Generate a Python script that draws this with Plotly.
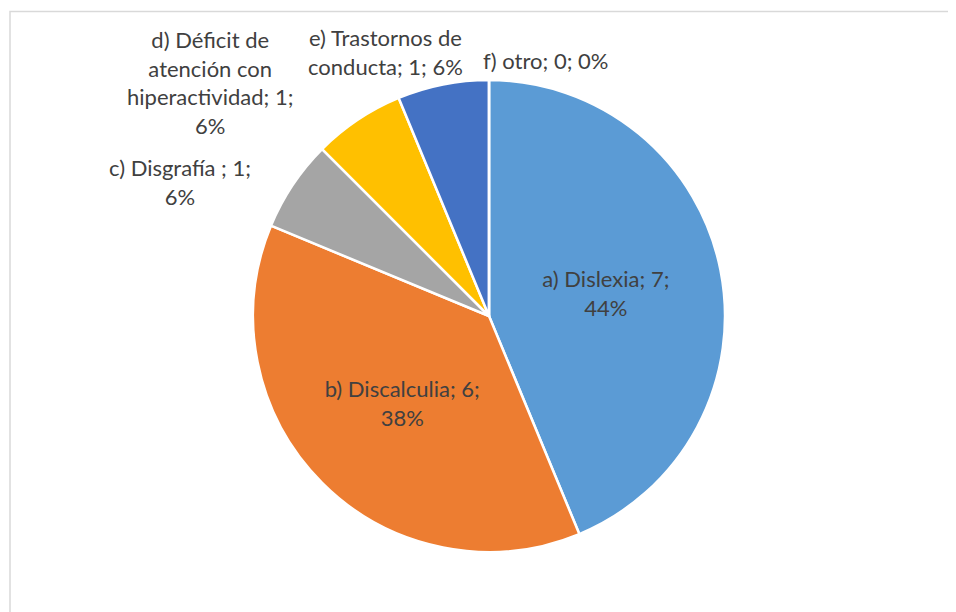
import plotly.graph_objects as go

# datos del gráfico
etiquetas = ["a) Dislexia", "b) Discalculia", "c) Disgrafía ", "d) Déficit de atención con hiperactividad",
             "e) Trastornos de conducta", "f) otro"]
textos = ["a) Dislexia; 7;<br>44%", "b) Discalculia; 6;<br>38%", "c) Disgrafía ; 1;<br>6%",
          "d) Déficit de<br>atención con<br>hiperactividad; 1;<br>6%", "e) Trastornos de<br>conducta; 1; 6%",
          "f) otro; 0; 0%"]
valores = [7, 6, 1, 1, 1, 0]
colores = ["#5B9BD5", "#ED7D31", "#A5A5A5", "#FFC000", "#4472C4", "#70AD47"]
posiciones = ["inside", "inside", "none", "none", "none", "none"]

W, H = 956, 612
OFF = 8  # margen por defecto del <body> en la página


def fx(p):
    return (p - OFF) / W


def fy(p):
    return 1 - (p - OFF) / H


cx, cy, r = 489, 316, 236

fig = go.Figure(go.Pie(
    labels=etiquetas,
    values=valores,
    text=textos,
    texttemplate="%{text}",
    textposition=posiciones,
    sort=False,
    direction="clockwise",
    rotation=0,
    marker=dict(colors=colores, line=dict(color="white", width=2.5)),
    insidetextfont=dict(color="#404040", size=22),
    insidetextorientation="horizontal",
    showlegend=False,
    hoverinfo="label+value+percent",
    domain=dict(x=[fx(cx - r), fx(cx + r)], y=[fy(cy + r), fy(cy - r)]),
))

# etiquetas exteriores (como en Excel, alejadas del sector)
pos_etiquetas = {2: (180, 182), 3: (210, 82), 4: (385, 52), 5: (545, 60)}
for i, (px_, py_) in pos_etiquetas.items():
    fig.add_annotation(x=fx(px_), y=fy(py_), xref="paper", yref="paper", text=textos[i],
                       xanchor="center", yanchor="middle",
                       showarrow=False, font=dict(color="#404040", size=22))

fig.add_shape(type="rect", xref="paper", yref="paper", x0=fx(10), y0=-0.05, x1=1.05, y1=fy(11.5),
              line=dict(color="#D9D9D9", width=1.5))

fig.update_layout(
    width=W, height=H,
    margin=dict(l=0, r=0, t=0, b=0, autoexpand=False),
    paper_bgcolor="white",
    font=dict(family="Lato, Open Sans, sans-serif", color="#404040"),
)

fig.write_html("out.html")
